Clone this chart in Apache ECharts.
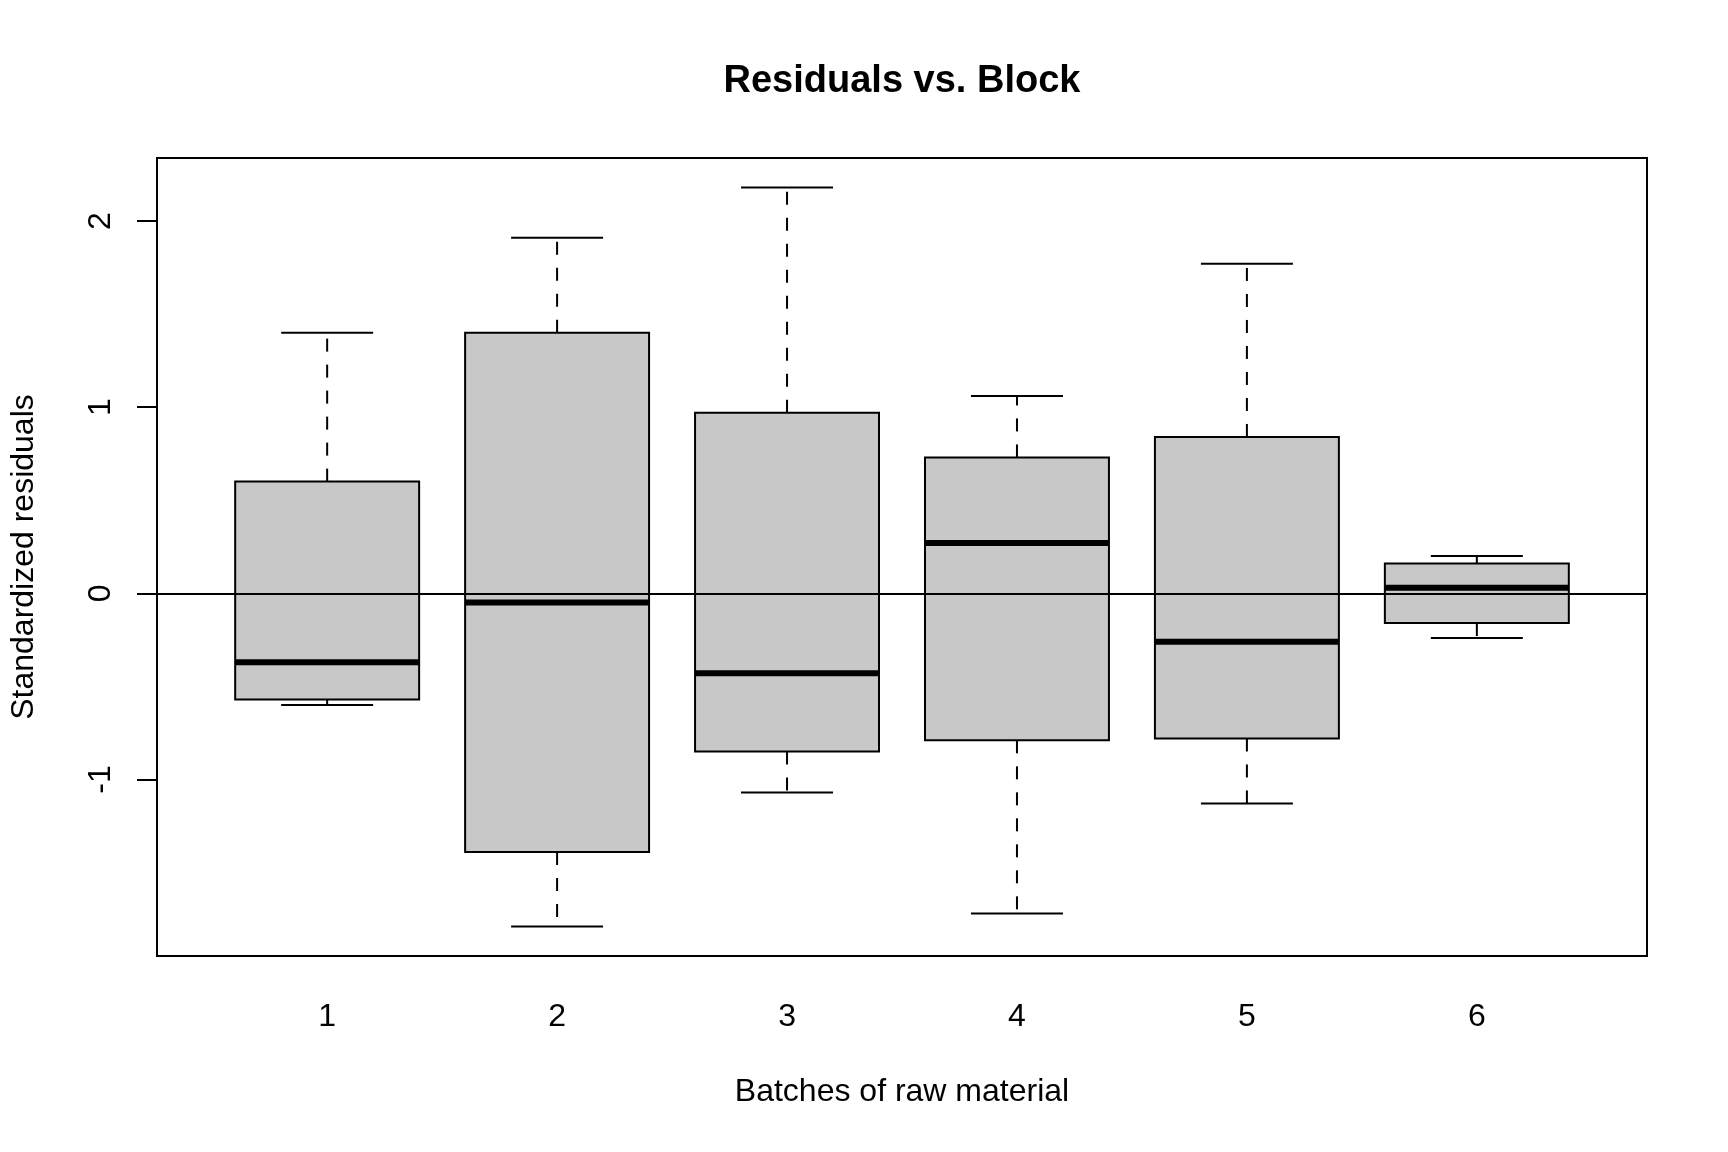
<!DOCTYPE html>
<html>
<head>
<meta charset="utf-8">
<script src="https://cdn.jsdelivr.net/npm/echarts@6/dist/echarts.min.js"></script>
<style>
  html, body { margin: 0; padding: 0; background: #fff; }
  #chart { width: 1728px; height: 1152px; }
</style>
</head>
<body>
<div id="chart"></div>
<script>
// boxplot stats per batch
var batches = [1, 2, 3, 4, 5, 6];
var lowWhisker    = [-0.60, -1.79, -1.07, -1.72, -1.13, -0.24];
var lowerQuartile = [-0.57, -1.39, -0.85, -0.79, -0.78, -0.16];
var medians       = [-0.37, -0.05, -0.43,  0.27, -0.26,  0.03];
var upperQuartile = [ 0.60,  1.40,  0.97,  0.73,  0.84,  0.16];
var highWhisker   = [ 1.40,  1.91,  2.18,  1.06,  1.77,  0.20];
var xTicks = [1, 2, 3, 4, 5, 6];
var yTicks = [-1, 0, 1, 2];

var FONT = "'Liberation Sans', Arial, Helvetica, sans-serif";
var GRID = { left: 157, right: 81, top: 158, bottom: 196 };

// R style axis limits: data range stretched 4% each side
var yLo = Math.min.apply(null, lowWhisker), yHi = Math.max.apply(null, highWhisker);
var yPad = (yHi - yLo) * 0.04;
var xLo = batches[0] - 0.5, xHi = batches[batches.length - 1] + 0.5;
var xPad = (xHi - xLo) * 0.04;

var boxData = batches.map(function (b, i) {
    return [b, lowWhisker[i], lowerQuartile[i], medians[i], upperQuartile[i], highWhisker[i]];
});

function renderBox(params, api) {
    var x = api.value(0);
    var lo = api.coord([x, api.value(1)]);
    var q1 = api.coord([x, api.value(2)]);
    var md = api.coord([x, api.value(3)]);
    var q3 = api.coord([x, api.value(4)]);
    var hi = api.coord([x, api.value(5)]);
    var halfBox = api.size([0.4, 0])[0];
    var halfCap = api.size([0.2, 0])[0];
    var cx = lo[0];
    var dash = { stroke: '#000', lineWidth: 2, lineDash: [13, 13] };
    var solid = { stroke: '#000', lineWidth: 2 };
    return {
        type: 'group',
        children: [
            { type: 'line', shape: { x1: cx, y1: q3[1], x2: cx, y2: hi[1] }, style: dash },
            { type: 'line', shape: { x1: cx, y1: q1[1], x2: cx, y2: lo[1] }, style: dash },
            { type: 'line', shape: { x1: cx - halfCap, y1: hi[1], x2: cx + halfCap, y2: hi[1] }, style: solid },
            { type: 'line', shape: { x1: cx - halfCap, y1: lo[1], x2: cx + halfCap, y2: lo[1] }, style: solid },
            { type: 'rect', shape: { x: cx - halfBox, y: q3[1], width: halfBox * 2, height: q1[1] - q3[1] },
              style: { fill: '#c8c8c8', stroke: '#000', lineWidth: 2 } },
            { type: 'line', shape: { x1: cx - halfBox, y1: md[1], x2: cx + halfBox, y2: md[1] },
              style: { stroke: '#000', lineWidth: 6 } }
        ]
    };
}

var chart = echarts.init(document.getElementById('chart'));
chart.setOption({
    animation: false,
    backgroundColor: '#fff',
    // title centred over the plot box, not the page
    graphic: [{
        type: 'text',
        x: GRID.left + (1728 - GRID.left - GRID.right) / 2,
        y: 82,
        style: {
            text: 'Residuals vs. Block',
            align: 'center',
            verticalAlign: 'middle',
            font: 'bold 38px ' + FONT,
            fill: '#000'
        }
    }],
    grid: {
        left: GRID.left, right: GRID.right, top: GRID.top, bottom: GRID.bottom,
        show: true, borderColor: '#000', borderWidth: 2, backgroundColor: 'transparent'
    },
    xAxis: {
        type: 'value',
        min: xLo - xPad,
        max: xHi + xPad,
        name: 'Batches of raw material',
        nameLocation: 'middle',
        nameGap: 120,
        nameTextStyle: { fontFamily: FONT, fontSize: 32, color: '#000' },
        axisLine: { show: false },
        axisTick: { show: true, inside: false, length: 20, customValues: xTicks,
                    lineStyle: { color: '#000', width: 2 } },
        axisLabel: { customValues: xTicks, margin: 45, fontFamily: FONT, fontSize: 32, color: '#000' },
        splitLine: { show: false }
    },
    yAxis: {
        type: 'value',
        min: yLo - yPad,
        max: yHi + yPad,
        name: 'Standardized residuals',
        nameLocation: 'middle',
        nameGap: 117,
        nameTextStyle: { fontFamily: FONT, fontSize: 32, color: '#000' },
        axisLine: { show: false },
        axisTick: { show: true, inside: false, length: 20, customValues: yTicks,
                    lineStyle: { color: '#000', width: 2 } },
        axisLabel: { customValues: yTicks, rotate: 90, margin: 40, fontFamily: FONT, fontSize: 32, color: '#000' },
        splitLine: { show: false }
    },
    series: [
        {
            type: 'custom',
            renderItem: renderBox,
            encode: { x: 0, y: [1, 2, 3, 4, 5] },
            data: boxData,
            z: 2
        },
        {
            type: 'line',
            data: [],
            z: 5,
            markLine: {
                silent: true,
                symbol: 'none',
                label: { show: false },
                lineStyle: { color: '#000', width: 2, type: 'solid' },
                data: [{ yAxis: 0 }]
            }
        }
    ]
});
</script>
</body>
</html>
